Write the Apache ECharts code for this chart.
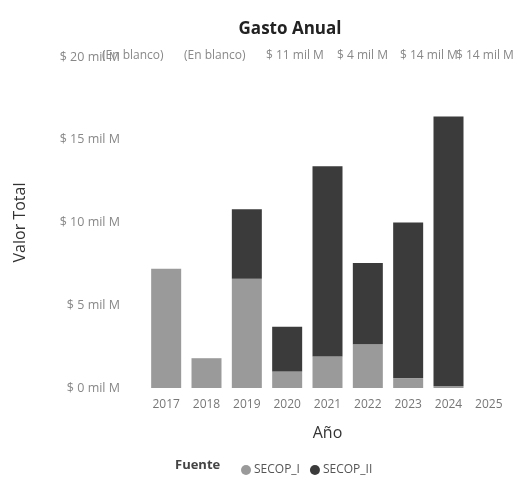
<!DOCTYPE html>
<html><head><meta charset="utf-8">
<script src="https://cdn.jsdelivr.net/npm/echarts@6/dist/echarts.min.js"></script>
<style>html,body{margin:0;padding:0;background:#fff}#c{width:518px;height:480px}</style>
</head><body><div id="c"></div>
<script>
var years = ['2017','2018','2019','2020','2021','2022','2023','2024','2025'];
var secopI = [7.2, 1.8, 6.6, 1.0, 1.9, 2.65, 0.6, 0.1, 0];
var secopII = [0, 0, 4.2, 2.7, 11.5, 4.9, 9.4, 16.3, 0];
var yTicks = [0, 5, 10, 15, 20];
var topRowLabels = ['(En blanco)', '(En blanco)', '$ 11 mil M', '$ 4 mil M', '$ 14 mil M', '$ 14 mil M'];

function blankZero(arr) { return arr.map(function (v) { return v === 0 ? '-' : v; }); }

var font = 'Open Sans';
var topRowX = [102, 184, 266, 337, 400, 456];
var graphics = topRowLabels.map(function (t, i) {
  return {type: 'text', left: topRowX[i], top: 50, style: {text: t, fontFamily: font, fontSize: 12, fill: '#888'}};
});
graphics.push({type: 'text', left: 175, top: 459, style: {text: 'Fuente', fontFamily: font, fontSize: 13, fontWeight: 'bold', fill: '#444'}});

var chart = echarts.init(document.getElementById('c'));
chart.setOption({
  animation: false,
  textStyle: {fontFamily: font},
  title: {text: 'Gasto Anual', left: 285, top: 16, textAlign: 'center',
    textStyle: {fontFamily: font, fontWeight: 'bold', fontSize: 17, color: '#222'}},
  legend: {left: 236, top: 459, itemWidth: 10, itemHeight: 10, icon: 'circle', itemGap: 10,
    data: ['SECOP_I', 'SECOP_II'],
    textStyle: {fontSize: 12, color: '#555', padding: [0, 0, 0, -2]}},
  grid: {left: 146, right: 9, top: 57, bottom: 92, containLabel: false},
  xAxis: {type: 'category', data: years, name: 'Año', nameLocation: 'middle', nameGap: 37,
    nameTextStyle: {fontSize: 16, color: '#333'},
    axisLine: {show: false}, axisTick: {show: false},
    axisLabel: {fontSize: 12, color: '#777', margin: 11}},
  yAxis: {type: 'value', min: 0, max: 20, interval: 5, name: 'Valor Total', nameLocation: 'middle', nameGap: 118,
    nameTextStyle: {fontSize: 16, color: '#333'},
    splitLine: {show: false}, axisLine: {show: false}, axisTick: {show: false},
    axisLabel: {fontSize: 12.5, color: '#888', margin: 26,
      formatter: function (v) { return yTicks.indexOf(v) >= 0 ? '$ ' + v + ' mil M' : ''; }}},
  series: [
    {name: 'SECOP_I', type: 'bar', stack: 't', data: blankZero(secopI), barWidth: 30,
      itemStyle: {color: '#9a9a9a'}},
    {name: 'SECOP_II', type: 'bar', stack: 't', data: blankZero(secopII), barWidth: 30,
      itemStyle: {color: '#3b3b3b'}}
  ],
  graphic: graphics
});
</script></body></html>
